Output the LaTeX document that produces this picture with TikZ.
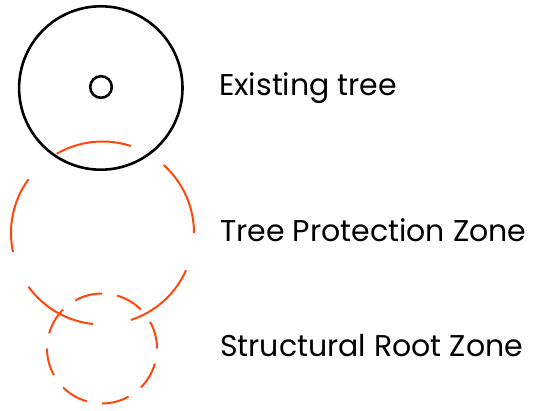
\documentclass[tikz,border=0pt]{standalone}
\usepackage{fontspec}
\setmainfont{Poppins}
\definecolor{tpz}{RGB}{255,72,12}
\begin{document}
\begin{tikzpicture}[x=1pt,y=1pt,
  treeline/.style={line width=2.6pt,black},
  zoneline/.style={line width=2pt,tpz,line cap=butt},
  lbl/.style={anchor=base west,inner sep=0pt,font=\fontsize{30}{32}\selectfont}]
\useasboundingbox (0,0) rectangle (533,410);
% existing tree
\draw[treeline] (100.8,322) circle (81.7);
\draw[treeline] (101,323) circle (10.8);
% tree protection zone
\foreach \a in {0,72,...,288}
  \draw[zoneline] ([shift={(\a:91.5)}]102.5,177) arc[start angle=\a, delta angle=48, radius=91.5];
% structural root zone
\foreach \a in {0,45,...,315}
  \draw[zoneline] ([shift={(\a:55)}]102,61.5) arc[start angle=\a, delta angle=29, radius=55];
\node[lbl] (existing) at (219,314) {Existing tree};
\node[lbl] (tpzlabel) at (220,168) {Tree Protection Zone};
\node[lbl] (srzlabel) at (220,54) {Structural Root Zone};
\end{tikzpicture}
\end{document}
